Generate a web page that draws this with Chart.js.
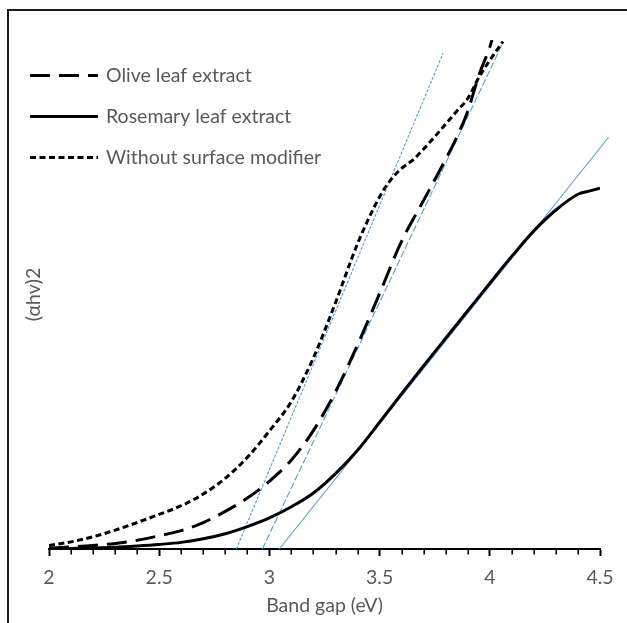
<!DOCTYPE html>
<html><head><meta charset="utf-8">
<script src="https://cdn.jsdelivr.net/npm/chart.js@4/dist/chart.umd.min.js"></script>
<style>
html,body{margin:0;padding:0;background:#fff;overflow:hidden}
#wrap{position:relative;width:627px;height:623px}
#frame{position:absolute;left:7px;top:9px;width:660px;height:660px;border-left:2px solid #1a1a1a;border-top:2px solid #1a1a1a;pointer-events:none}
canvas{position:absolute;left:0;top:0}
</style></head><body>
<div id="wrap"><canvas id="c" width="627" height="623" style="width:627px;height:623px"></canvas><div id="frame"></div></div>
<script>
// ---- data ----
const seriesNames = ['Olive leaf extract', 'Rosemary leaf extract', 'Without surface modifier'];
const xTickLabels = ['2', '2.5', '3', '3.5', '4', '4.5'];
const minorTickValues = [2.1,2.2,2.3,2.4,2.6,2.7,2.8,2.9,3.1,3.2,3.3,3.4,3.6,3.7,3.8,3.9,4.1,4.2,4.3,4.4];

const oliveX = [2.0,2.1,2.2,2.3,2.4,2.5,2.6,2.7,2.8,2.9,3.0,3.1,3.2,3.3,3.4,3.5,3.6,3.7,3.8,3.85,3.9,3.95,4.0,4.01];
const oliveY = [0.2,0.4,0.7,1.1,1.7,2.6,3.6,5.2,7.4,10.0,13.3,17.5,23.3,30.9,40.1,50.2,60.5,68.5,76.6,80.9,86.0,93.0,98.6,100.0];

const rosemaryX = [2.0,2.1,2.2,2.3,2.4,2.5,2.6,2.7,2.8,2.9,3.0,3.1,3.2,3.3,3.4,3.5,3.6,3.7,3.8,3.9,4.0,4.1,4.2,4.3,4.4,4.45,4.5];
const rosemaryY = [0.0,0.1,0.2,0.35,0.6,0.9,1.3,2.0,3.0,4.4,6.1,8.3,11.0,14.8,19.4,24.9,30.5,36.0,41.4,46.8,52.2,57.5,62.5,66.6,69.7,70.3,70.9];

const withoutX = [2.0,2.1,2.2,2.3,2.4,2.5,2.6,2.7,2.8,2.9,3.0,3.1,3.2,3.3,3.4,3.5,3.55,3.6,3.65,3.7,3.75,3.8,3.85,3.9,3.95,4.0,4.06];
const withoutY = [0.7,1.4,2.4,3.7,5.2,6.8,8.5,10.8,13.9,18.0,23.2,29.0,37.6,48.4,60.0,69.2,72.5,74.8,76.4,78.6,81.0,83.5,86.0,88.5,92.6,96.0,99.7];

const oliveTangentX = [2.968, 4.061];
const oliveTangentY = [0, 99.6];
const rosemaryTangentX = [3.045, 4.539];
const rosemaryTangentY = [0, 80.9];
const withoutTangentX = [2.850, 3.788];
const withoutTangentY = [0, 97.4];

const pts = (xs, ys) => xs.map((x, i) => ({x, y: ys[i]}));

const FONT = 'Lato, "Open Sans", sans-serif';
const FS = 19.5;
const TXT = '#595959';
const BLUE = '#5B9BD5';

const curve = (label, xs, ys, dash) => ({
  label, data: pts(xs, ys), borderColor: '#000', backgroundColor: '#000',
  borderWidth: 3, borderDash: dash, pointRadius: 0, fill: false,
  cubicInterpolationMode: 'monotone', inLegend: true
});
const tangent = (xs, ys, dash) => ({
  label: '', data: pts(xs, ys), borderColor: BLUE, borderWidth: 1.1,
  borderDash: dash, pointRadius: 0, fill: false, tension: 0, clip: false, inLegend: false
});

const minorTicks = {
  id: 'minorTicks',
  afterDraw(chart) {
    const xs = chart.scales.x, ctx = chart.ctx, y0 = chart.chartArea.bottom;
    ctx.save(); ctx.strokeStyle = '#000'; ctx.lineWidth = 1.6;
    minorTickValues.forEach(v => {
      const px = Math.round(xs.getPixelForValue(v)) + 0.2;
      ctx.beginPath(); ctx.moveTo(px, y0); ctx.lineTo(px, y0 + 5.5); ctx.stroke();
    });
    ctx.restore();
  }
};

const innerLegend = {
  id: 'innerLegend',
  afterDraw(chart) {
    const ctx = chart.ctx, a = chart.chartArea;
    ctx.save();
    let i = 0;
    chart.data.datasets.forEach(ds => {
      if (!ds.inLegend) return;
      const y = a.top + 35.5 + i * 41;
      ctx.strokeStyle = ds.borderColor; ctx.lineWidth = ds.borderWidth;
      ctx.setLineDash(ds.borderDash || []);
      ctx.beginPath(); ctx.moveTo(a.left - 19, y); ctx.lineTo(a.left + 49, y); ctx.stroke();
      ctx.setLineDash([]);
      ctx.fillStyle = TXT; ctx.font = FS + 'px ' + FONT; ctx.textBaseline = 'middle'; ctx.textAlign = 'left';
      ctx.fillText(ds.label, a.left + 57, y);
      i++;
    });
    ctx.restore();
  }
};

new Chart(document.getElementById('c'), {
  type: 'line',
  data: {
    datasets: [
      curve(seriesNames[0], oliveX, oliveY, [20, 9]),
      curve(seriesNames[1], rosemaryX, rosemaryY, []),
      curve(seriesNames[2], withoutX, withoutY, [6, 3.5]),
      tangent(oliveTangentX, oliveTangentY, [7, 2.5]),
      tangent(rosemaryTangentX, rosemaryTangentY, []),
      tangent(withoutTangentX, withoutTangentY, [3, 1.5])
    ]
  },
  options: {
    responsive: false, animation: false, devicePixelRatio: 1,
    layout: { padding: { top: 40, right: 27, left: 0, bottom: 0 } },
    plugins: { legend: { display: false }, tooltip: { enabled: false } },
    scales: {
      x: {
        type: 'linear', min: 2, max: 4.5,
        afterFit: s => { s.height = 74; },
        afterBuildTicks: s => { s.ticks = xTickLabels.map(t => ({ value: parseFloat(t) })); },
        ticks: { color: TXT, font: { family: FONT, size: FS }, padding: 10, maxRotation: 0,
                 callback: v => xTickLabels.find(t => parseFloat(t) === v) ?? '' },
        grid: { display: true, drawOnChartArea: false, drawTicks: true, tickLength: 7, tickWidth: 2, tickColor: '#000', color: '#000' },
        border: { display: true, color: '#000', width: 2 },
        title: { display: true, text: 'Band gap (eV)', color: TXT, font: { family: FONT, size: FS }, padding: { top: 0, bottom: 6 } }
      },
      y: {
        min: 0, max: 100,
        afterFit: s => { s.width = 49; },
        ticks: { display: false },
        grid: { display: false },
        border: { display: false },
        title: { display: true, text: '(αhv)2', color: TXT, font: { family: FONT, size: FS }, padding: { top: 22, bottom: 0 } }
      }
    }
  },
  plugins: [minorTicks, innerLegend]
});
</script>
</body></html>
